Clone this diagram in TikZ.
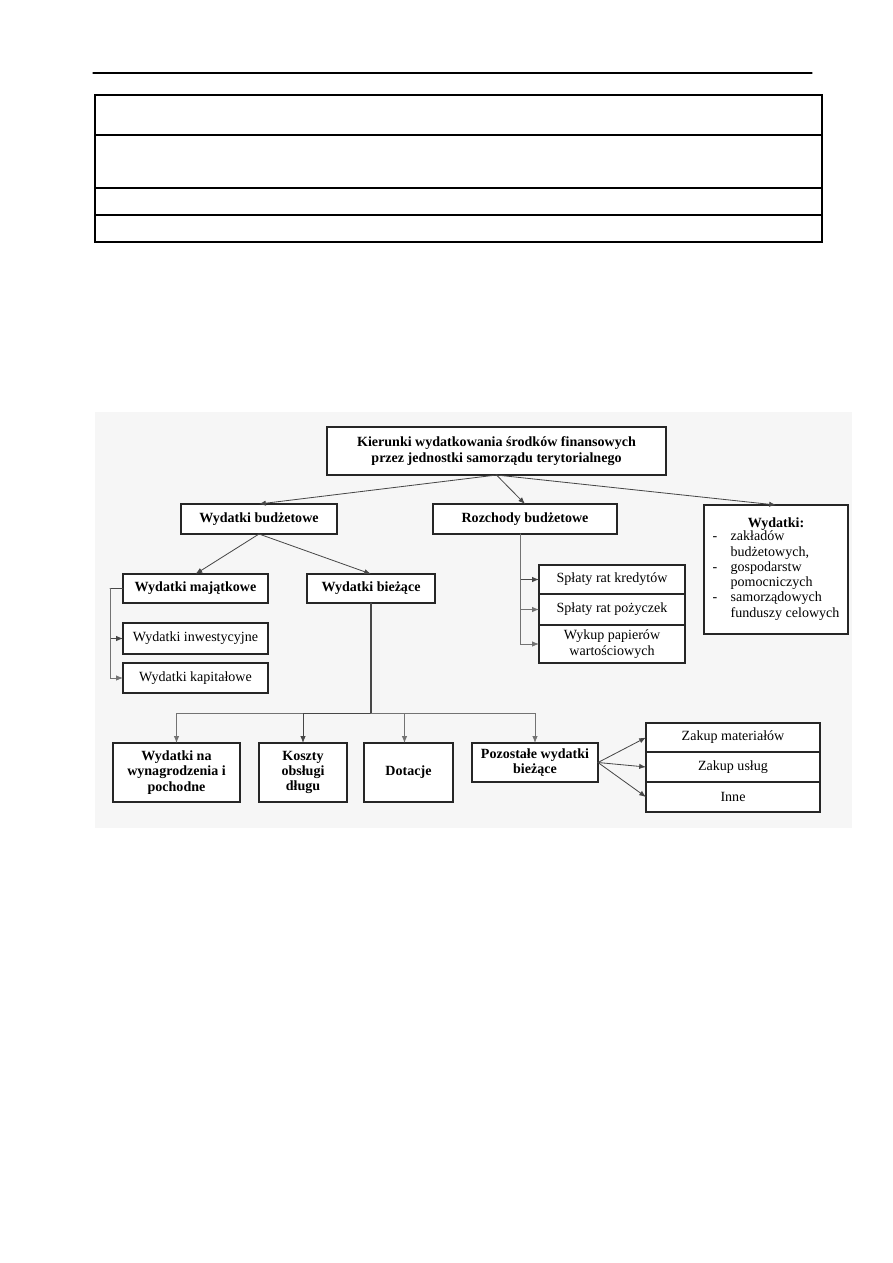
\documentclass[tikz,border=0pt]{standalone}
\usepackage{fontspec}
\setmainfont{Liberation Serif}
\usetikzlibrary{arrows.meta,calc,positioning}
\newlength\pxu
\setlength\pxu{0.02352cm}

\begin{document}
\begin{tikzpicture}[
  x=0.02352cm, y=-0.02352cm,
  font=\fontsize{9.4}{10.2}\selectfont,
  >={Latex[length=1.6mm,width=1.25mm]},
  line cap=round,
  conn/.style={draw=black!72, line width=0.55pt},
  connl/.style={draw=black!55, line width=0.55pt},
  arr/.style={conn, ->},
  arrl/.style={connl, ->},
  box/.style={rectangle, draw=black!85, line width=0.7pt, fill=white, align=center,
    inner sep=2pt, outer sep=0pt},
  hbox/.style={box, font=\fontsize{9.4}{10.2}\selectfont\bfseries},
]
  \useasboundingbox (0,0) rectangle (893,1263);
  % page header and empty table
  \draw[line width=0.8pt] (93,73) -- (812,73);
  \draw[line width=0.8pt] (95,95) rectangle (822,242);
  \foreach \yy in {135,188,215}
    \draw[line width=0.8pt] (95,\yy) -- (822,\yy);
  % scanned figure background
  \fill[black!3.5] (95,412) rectangle (852,828);

  % top level
  \node[hbox, minimum width=339\pxu, minimum height=48\pxu] (root) at (496.5,451)
    {Kierunki wydatkowania środków finansowych\\przez jednostki samorządu terytorialnego};
  \node[hbox, minimum width=156\pxu, minimum height=30\pxu] (budz) at (259,519) {Wydatki budżetowe};
  \node[hbox, minimum width=184\pxu, minimum height=30\pxu] (rozch) at (525,519) {Rozchody budżetowe};
  \node[box, minimum width=144\pxu, minimum height=129\pxu, anchor=north] (zakl) at (776,505)
    {\textbf{Wydatki:}\\[-1pt]
     \begin{tabular}{@{}l@{\hspace{9pt}}l@{}}
       - & zakładów\\ & budżetowych,\\
       - & gospodarstw\\ & pomocniczych\\
       - & samorządowych\\ & funduszy celowych
     \end{tabular}};
  % budget expenditures
  \node[hbox, minimum width=145\pxu, minimum height=29\pxu] (maj) at (195.5,588.5) {Wydatki majątkowe};
  \node[hbox, minimum width=128\pxu, minimum height=29\pxu] (biez) at (371,588.5) {Wydatki bieżące};
  \node[box, minimum width=145\pxu, minimum height=31\pxu] (inw) at (195.5,638.5) {Wydatki inwestycyjne};
  \node[box, minimum width=145\pxu, minimum height=30\pxu] (kap) at (195.5,678) {Wydatki kapitałowe};
  % repayments
  \node[box, minimum width=146\pxu, minimum height=29\pxu] (kred) at (612,579.5) {Spłaty rat kredytów};
  \node[box, minimum width=146\pxu, minimum height=31\pxu, below=0pt of kred] (pozy) {Spłaty rat pożyczek};
  \node[box, minimum width=146\pxu, minimum height=38\pxu, below=0pt of pozy] (wyk)
    {Wykup papierów\\wartościowych};
  % current expenditures
  \node[hbox, minimum width=127\pxu, minimum height=59\pxu] (wyn) at (176.5,772.5)
    {Wydatki na\\wynagrodzenia i\\pochodne};
  \node[hbox, minimum width=88\pxu, minimum height=59\pxu] (kosz) at (303,772.5) {Koszty\\obsługi\\długu};
  \node[hbox, minimum width=89\pxu, minimum height=59\pxu] (dot) at (408.5,772.5) {Dotacje};
  \node[hbox, minimum width=126\pxu, minimum height=39\pxu] (poz) at (535,762.5) {Pozostałe wydatki\\bieżące};
  \node[box, minimum width=174\pxu, minimum height=29\pxu] (mat) at (733,737.5) {Zakup materiałów};
  \node[box, minimum width=174\pxu, minimum height=30\pxu, below=0pt of mat] (usl) {Zakup usług};
  \node[box, minimum width=174\pxu, minimum height=30\pxu, below=0pt of usl] (inne) {Inne};

  % forks
  \coordinate (majfork) at ($(maj.west)+(-13,0)$);
  \coordinate (rfork) at ($(rozch.south)+(-5,0)$);
  \coordinate (bus) at ($(biez.south)+(0,110)$);

  % arrows
  \draw[arr] (root.south) -- (budz.north);
  \draw[arr] (root.south) -- (rozch.north);
  \draw[arr] (root.south) -- (zakl.north);
  \draw[arr] (budz.south) -- (maj.north);
  \draw[arr] (budz.south) -- (biez.north);
  \draw[conn] (maj.west) -- (majfork);
  \draw[arr] (majfork) |- (inw.west);
  \draw[arrl] (majfork) |- (kap.west);
  \draw[arr] (rfork) |- (kred.west);
  \draw[arrl] (rfork) |- (pozy.west);
  \draw[arrl] (rfork) |- (wyk.west);
  \draw[conn, line width=0.8pt] (biez.south) -- (bus);
  \draw[arrl] (bus) -| (wyn.north);
  \draw[arr] (bus) -| (kosz.north);
  \draw[arrl] (bus) -| ($(dot.north)+(-4,0)$);
  \draw[arrl] (bus) -| (poz.north);
  \draw[arr] (poz.east) -- (mat.west);
  \draw[arr] (poz.east) -- (usl.west);
  \draw[arr] (poz.east) -- (inne.west);
\end{tikzpicture}
\end{document}
